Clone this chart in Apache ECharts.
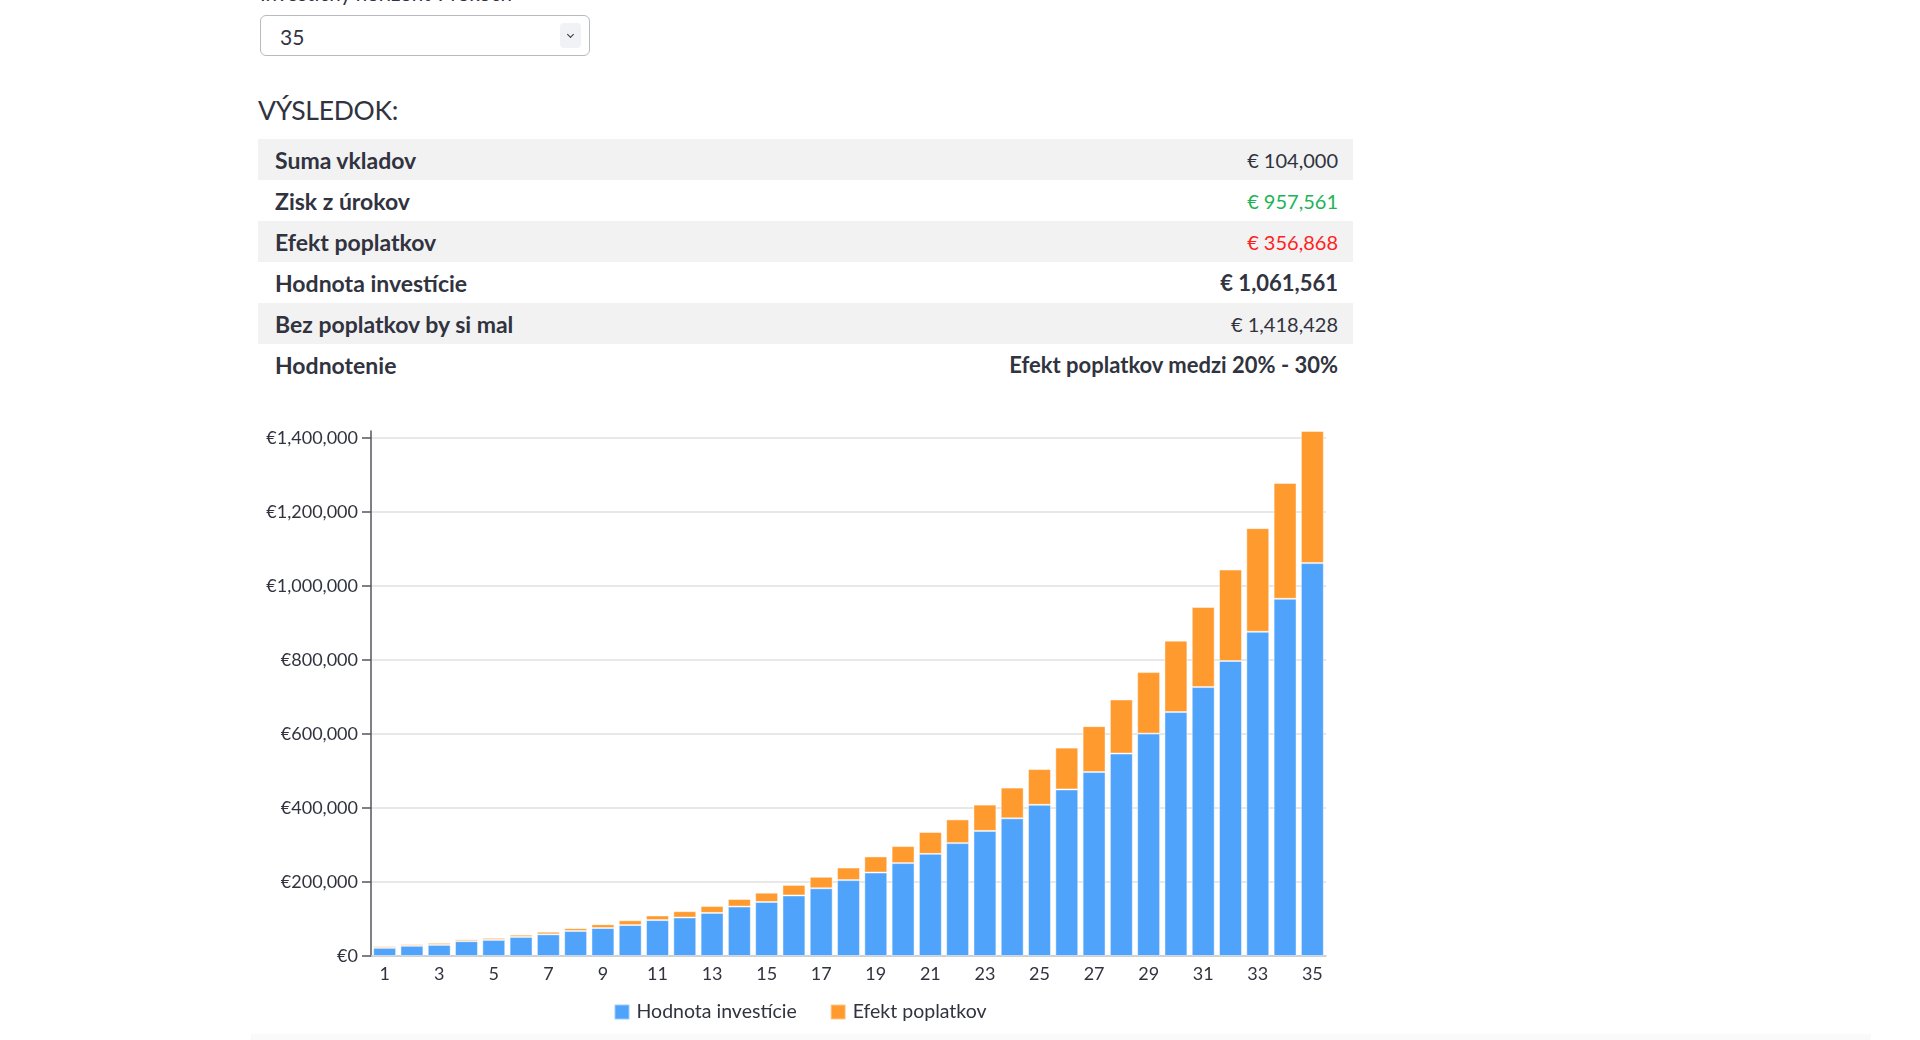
<!DOCTYPE html>
<html>
<head>
<meta charset="utf-8">
<script src="https://cdn.jsdelivr.net/npm/echarts@6/dist/echarts.min.js"></script>
<style>
  html, body { margin:0; padding:0; width:1920px; height:1040px; background:#fff; overflow:hidden; font-family: Lato, "Noto Sans", sans-serif; color:#31333F; }
  .abs { position:absolute; }
  #lbl { left:260px; top:-19px; font-size:20.5px; line-height:24px; white-space:nowrap; }
  #sel { left:260px; top:15px; width:328px; height:39px; border:1px solid #b9bac0; border-radius:6px; box-sizing:content-box; }
  #sel .v { position:absolute; left:19px; top:8px; font-size:21px; }
  #sel .chev { position:absolute; left:299px; top:7px; width:21px; height:25px; background:#f0f2f6; border-radius:4px; }
  #sel .chev:after { content:""; position:absolute; left:8px; top:9px; width:4px; height:4px; border-right:1.5px solid #31333F; border-bottom:1.5px solid #31333F; transform:rotate(45deg); }
  #head { left:258px; top:94px; font-size:26.5px; letter-spacing:-0.3px; white-space:nowrap; }
  #tbl { left:258px; top:139px; width:1095px; border-collapse:collapse; }
  #tbl td { height:41px; padding:0 15px; font-size:20px; white-space:nowrap; }
  #tbl td.k { font-weight:700; font-size:23px; padding-left:17px; }
  #tbl td.r { text-align:right; }
  #tbl tr:nth-child(odd) td { background:#f2f2f2; }
  #chart { left:240px; top:400px; width:1120px; height:640px; }
  #foot { left:251px; top:1034px; width:1620px; height:6px; background:#fafafa; }
</style>
</head>
<body>
<div id="lbl" class="abs">Investičný horizont v rokoch</div>
<div id="sel" class="abs"><span class="v">35</span><span class="chev"></span></div>
<div id="head" class="abs">VÝSLEDOK:</div>
<table id="tbl" class="abs"><tbody id="tb"></tbody></table>
<div id="chart" class="abs"></div>
<div id="foot" class="abs"></div>
<script>
// ---- data ----
const years = ['1','2','3','4','5','6','7','8','9','10','11','12','13','14','15','16','17','18','19','20','21','22','23','24','25','26','27','28','29','30','31','32','33','34','35'];
const hodnotaInvesticie = [22000,27500,30000,40000,43500,51500,58500,67500,75500,83500,97000,104000,116500,133500,146000,163500,183000,205000,225500,251000,276000,305000,338000,372000,408500,450000,497000,547000,601000,659000,726500,797000,876000,965000,1061561];
const efektPoplatkov = [4500,4500,5500,5000,5500,6000,7000,7500,10000,13000,12500,17000,18500,20500,25000,28500,31000,34000,43500,46000,59000,64000,71000,83000,96500,113000,124000,146000,166000,193000,216500,247000,280000,313000,356867];
const yTicks = [0,200000,400000,600000,800000,1000000,1200000,1400000];
const yMax = 1418428;
const seriesNames = ['Hodnota investície','Efekt poplatkov'];
const tableRows = [
  ['Suma vkladov','€ 104,000',''],
  ['Zisk z úrokov','€ 957,561','green'],
  ['Efekt poplatkov','€ 356,868','red'],
  ['Hodnota investície','€ 1,061,561','bold'],
  ['Bez poplatkov by si mal','€ 1,418,428',''],
  ['Hodnotenie','Efekt poplatkov medzi 20% - 30%','bold']
];

// ---- table ----
const tb = document.getElementById('tb');
tableRows.forEach(r => {
  const tr = document.createElement('tr');
  const a = document.createElement('td'); a.className='k'; a.textContent=r[0];
  const b = document.createElement('td'); b.className='r'; b.textContent=r[1];
  if (r[2]==='green') b.style.color='#21b457';
  if (r[2]==='red') b.style.color='#ff1f1f';
  if (r[2]==='bold') { b.style.fontWeight='700'; b.style.fontSize='22px'; }
  tr.appendChild(a); tr.appendChild(b); tb.appendChild(tr);
});

// ---- chart ----
const chart = echarts.init(document.getElementById('chart'), null, {renderer:'canvas'});
const txt = '#31333F';
const fmt = v => '€' + Math.round(v).toLocaleString('en-US');
chart.setOption({
  animation:false,
  textStyle:{fontFamily:'Lato'},
  grid:{left:131, right:34, top:31, bottom:84, containLabel:false},
  legend:{
    data:seriesNames, left:'center', top:597, icon:'rect', itemWidth:15, itemHeight:15, itemGap:33,
    textStyle:{fontSize:19.5, color:txt, fontFamily:'Lato', padding:[0,0,0,2]}
  },
  xAxis:{
    type:'category', data:years,
    axisLine:{lineStyle:{color:'#c8c8c8', width:1.5}},
    axisTick:{show:false},
    axisLabel:{interval:1, fontSize:18, color:txt, margin:9, fontFamily:'Lato'}
  },
  yAxis:{
    type:'value', min:0, max:yMax, interval:yTicks[1]-yTicks[0],
    axisLine:{show:true, lineStyle:{color:'#55565e', width:1.5}},
    axisTick:{show:true, length:9, lineStyle:{color:'#55565e', width:1.5}},
    splitLine:{show:true, showMaxLine:false, lineStyle:{color:'#e0e0e0', width:1.5}},
    axisLabel:{formatter:fmt, showMaxLabel:false, fontSize:18, color:txt, margin:13, fontFamily:'Lato'}
  },
  series:[
    {name:seriesNames[0], type:'bar', stack:'t', data:hodnotaInvesticie, barCategoryGap:'16%',
     itemStyle:{color:'#4fa3fb', borderColor:'rgba(255,255,255,0.45)', borderWidth:1}},
    {name:seriesNames[1], type:'bar', stack:'t', data:efektPoplatkov, barCategoryGap:'16%',
     itemStyle:{color:'#ff9a2e', borderColor:'rgba(255,255,255,0.45)', borderWidth:1}}
  ]
});
</script>
</body>
</html>
